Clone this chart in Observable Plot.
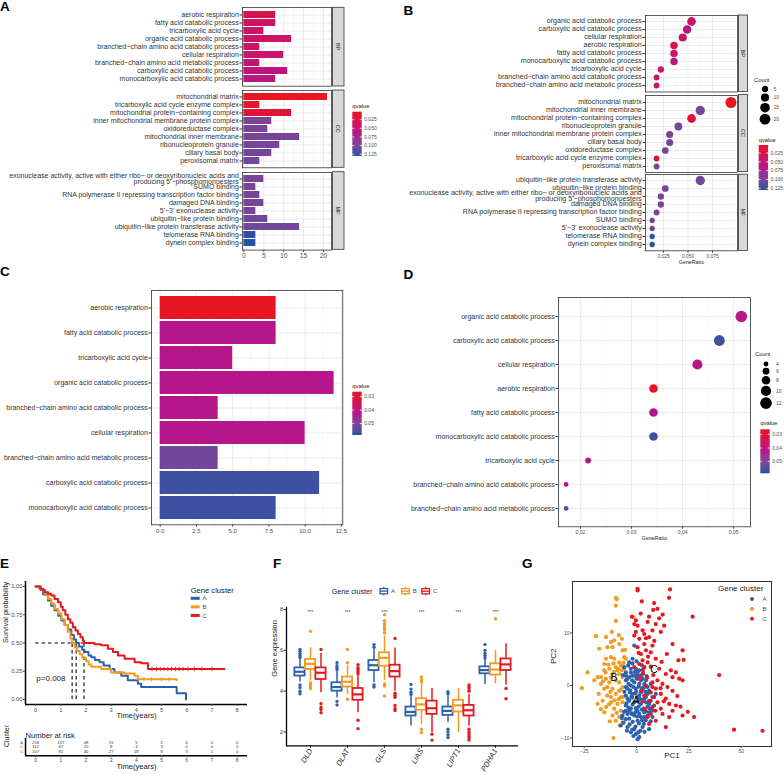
<!DOCTYPE html>
<html><head><meta charset="utf-8">
<script src="https://cdn.jsdelivr.net/npm/d3@7"></script>
<script src="https://cdn.jsdelivr.net/npm/@observablehq/plot@0.6"></script>
<style>
html,body{margin:0;padding:0;background:#fff;}
#root{position:relative;width:784px;height:775px;overflow:hidden;background:#fff;font-family:'Liberation Sans',Arial,sans-serif;}
#root > svg{position:absolute;overflow:visible;}
</style></head><body><div id="root"></div>
<script>
// ================= DATA =================
// --- A: GO bar chart (ordered by qvalue inside each ontology) ---
const bpTerms = ["aerobic respiration","fatty acid catabolic process","tricarboxylic acid cycle","organic acid catabolic process","branched\u2212chain amino acid catabolic process","cellular respiration","branched\u2212chain amino acid metabolic process","carboxylic acid catabolic process","monocarboxylic acid catabolic process"];
const bpCount = [8,8,5,12,4,10,4,11,8];
const bpQ = [0.027,0.040,0.041,0.042,0.043,0.044,0.052,0.057,0.058];
const ccTerms = ["mitochondrial matrix","tricarboxylic acid cycle enzyme complex","mitochondrial protein\u2212containing complex","inner mitochondrial membrane protein complex","oxidoreductase complex","mitochondrial inner membrane","ribonucleoprotein granule","ciliary basal body","peroxisomal matrix"];
const ccCount = [21,4,12,7,6,14,9,7,4];
const ccQ = [0.002,0.012,0.015,0.098,0.099,0.100,0.101,0.102,0.104];
const EXO = "exonuclease activity, active with either ribo\u2212 or deoxyribonucleic acids and\nproducing 5'\u2212phosphomonoesters";
const mfTerms = [EXO,"SUMO binding","RNA polymerase II repressing transcription factor binding","damaged DNA binding","5'\u22123' exonuclease activity","ubiquitin\u2212like protein binding","ubiquitin\u2212like protein transferase activity","telomerase RNA binding","dynein complex binding"];
const mfCount = [5,3,4,5,3,6,14,3,3];
const mfQ = [0.098,0.099,0.100,0.100,0.101,0.102,0.104,0.128,0.130];

// --- B: GO dot plot (ordered by GeneRatio) ---
const bDotBP = ["organic acid catabolic process","carboxylic acid catabolic process","cellular respiration","aerobic respiration","fatty acid catabolic process","monocarboxylic acid catabolic process","tricarboxylic acid cycle","branched\u2212chain amino acid catabolic process","branched\u2212chain amino acid metabolic process"];
const bRatioBP = [0.0536,0.0491,0.0446,0.0357,0.0357,0.0357,0.0223,0.0179,0.0179];
const bDotCC = ["mitochondrial matrix","mitochondrial inner membrane","mitochondrial protein\u2212containing complex","ribonucleoprotein granule","inner mitochondrial membrane protein complex","ciliary basal body","oxidoreductase complex","tricarboxylic acid cycle enzyme complex","peroxisomal matrix"];
const bRatioCC = [0.0938,0.0625,0.0536,0.0402,0.0313,0.0313,0.0268,0.0179,0.0179];
const bDotMF = ["ubiquitin\u2212like protein transferase activity","ubiquitin\u2212like protein binding",EXO,"damaged DNA binding","RNA polymerase II repressing transcription factor binding","SUMO binding","5'\u22123' exonuclease activity","telomerase RNA binding","dynein complex binding"];
const bRatioMF = [0.0625,0.0268,0.0223,0.0223,0.0179,0.0134,0.0134,0.0134,0.0134];

// --- C: BP bar chart ---
const cTerms = bpTerms;
const cCount = [8,8,5,12,4,10,4,11,8];
const cQ = [0.027,0.042,0.042,0.042,0.042,0.042,0.052,0.057,0.057];
// --- D: BP dot plot ---
const dTerms = ["organic acid catabolic process","carboxylic acid catabolic process","cellular respiration","aerobic respiration","fatty acid catabolic process","monocarboxylic acid catabolic process","tricarboxylic acid cycle","branched\u2212chain amino acid catabolic process","branched\u2212chain amino acid metabolic process"];
const dRatio = [0.0515,0.0472,0.0429,0.0343,0.0343,0.0343,0.0215,0.0172,0.0172];

// --- E: Kaplan-Meier ---
const clusters = ["A","B","C"];
const kmA_t = [0,0.15,0.3,0.49,0.62,0.75,0.9,1.02,1.15,1.28,1.42,1.52,1.61,1.72,1.85,1.94,2.1,2.21,2.35,2.54,2.7,2.94,3.13,3.4,3.66,4.06,4.19,5.6,5.97];
const kmA_s = [1,0.98,0.93,0.876,0.83,0.79,0.74,0.70,0.66,0.62,0.57,0.53,0.50,0.47,0.44,0.42,0.39,0.375,0.35,0.33,0.30,0.27,0.24,0.21,0.17,0.14,0.11,0.055,0];
const kmB_t = [0,0.2,0.36,0.5,0.62,0.75,0.89,1.02,1.15,1.28,1.38,1.45,1.55,1.65,1.75,1.85,2.0,2.1,2.21,2.6,3.0,3.53,3.93,4.06,5.6];
const kmB_s = [1,0.97,0.935,0.89,0.85,0.80,0.76,0.71,0.66,0.60,0.54,0.50,0.46,0.43,0.40,0.37,0.34,0.31,0.29,0.27,0.24,0.23,0.21,0.18,0.17];
const kmC_t = [0,0.2,0.36,0.5,0.62,0.75,0.89,1.0,1.08,1.18,1.28,1.38,1.48,1.58,1.68,1.78,1.88,1.92,2.34,2.6,2.87,3.07,3.27,3.53,3.93,4.19,4.46,7.5];
const kmC_s = [1,0.97,0.95,0.935,0.92,0.89,0.86,0.82,0.79,0.75,0.71,0.68,0.64,0.61,0.58,0.55,0.52,0.50,0.49,0.48,0.45,0.42,0.39,0.36,0.33,0.32,0.27,0.27];
const censorB = [4.3,4.6,5.0,5.3];
const censorC = [4.62,4.8,4.95,5.1,5.25,5.4,5.55,5.7,5.85,6.05,6.3,6.6,7.0];
const medianT = [1.45,1.61,1.92];
const riskTimes = [0,1,2,3,4,5,6,7,8];
const riskA = [218,137,48,15,5,2,0,0,0];
const riskB = [112,67,20,8,3,3,0,0,0];
const riskC = [107,81,40,27,18,8,3,1,0];

// --- F: boxplots [lower whisker, q1, median, q3, upper whisker] ---
const genes = ["DLD","DLAT","GLS","LIAS","LIPT1","PDHA1"];
const boxA = [[4.45,4.74,4.95,5.14,5.55],[3.68,4.0,4.2,4.41,4.95],[4.41,5.01,5.27,5.5,6.05],[2.29,2.78,2.98,3.22,3.75],[2.46,2.81,3.03,3.22,3.8],[4.33,4.85,5.03,5.19,5.55]];
const boxB = [[4.5,5.06,5.34,5.55,6.12],[3.84,4.2,4.46,4.69,5.25],[4.5,5.22,5.63,5.88,6.7],[2.37,3.06,3.35,3.63,4.35],[1.97,2.98,3.3,3.55,4.13],[4.36,4.79,5.06,5.34,5.99]];
const boxC = [[3.92,4.57,4.9,5.14,5.85],[2.94,3.55,3.84,4.13,4.75],[4.0,4.69,4.98,5.27,6.12],[1.97,2.86,3.16,3.51,4.13],[2.29,2.78,3.06,3.3,3.85],[4.3,5.01,5.31,5.58,6.32]];
const outA = [[5.65,5.75,5.85,5.95,6.04,4.3,4.17,4.0,3.87],[5.05,5.15,5.25,5.39,3.5,3.32],[6.15,6.28,4.3,4.2],[3.84,3.95,4.1,4.33],[3.88,3.97,2.13,2.0,1.85,1.72],[5.63,5.75,5.85,6.0,6.28]];
const outB = [[6.93,4.4,4.3,4.2,4.13],[5.39,6.04,3.6],[6.85,7.0,7.1,7.2,7.3,7.45,7.75,4.35,4.25,3.76],[4.45,4.55,4.69,2.13,1.97],[],[7.55]];
const outC = [[6.04,3.38,3.2,3.1,2.94],[4.85,4.95,5.05,5.15,5.3,2.57,2.16],[6.58,3.9,3.8,3.7,3.3,3.15,3.05],[1.89,1.6],[4.0,4.1,4.2,4.3,2.13,2.0,1.9,1.8,1.7,1.6],[4.13,3.63]];

// --- G: PCA scores [PC1, PC2] ---
const pcA = [[-1.1,7.6],[-1.9,5.1],[-3.5,4.4],[-2.7,3.2],[-5.1,2.5],[-0.3,3.2],[1.3,2.9],[-1.9,1.9],[-3.5,1.6],[0.5,1.9],[2.9,1.3],[-5.1,1.0],[-1.1,0.6],[1.3,0.3],[-2.7,0],[3.7,-0.3],[-4.3,-0.6],[-0.3,-0.6],[2.1,-1.3],[-1.9,-1.6],[-5.1,-1.9],[5.3,-1.6],[0.5,-2.2],[3.7,-2.5],[-3.5,-2.9],[-1.1,-3.2],[6.8,-2.9],[2.1,-3.5],[-5.1,-3.8],[5.3,-4.0],[-2.7,-4.4],[0.5,-4.8],[7.6,-4.8],[3.7,-5.1],[-4.3,-5.4],[-1.1,-5.7],[2.1,-6.0],[5.3,-5.7],[-6.7,-5.7],[-3.5,-6.3],[0.5,-6.7],[-7.5,-7.6],[-4.3,-7.9],[-1.1,-8.3],[2.9,-7.9],[6,-8.3],[-2.7,-8.9],[-0.3,-9.2],[1.3,-9.8],[0.5,-10.2],[7.6,-6.0],[8.4,-3.8],[-5.9,3.5],[-5.1,-0.3],[6,-1.0],[4.5,1.0],[6.8,0.3],[9.2,-1.6],[-2.1,1.0],[0,1.3],[2.1,1.0],[-3.8,0.3],[-1.4,-0.3],[1,-0.2],[2.9,-0.8],[-3.2,-1.3],[-0.6,-1.5],[1.3,-1.9],[4.5,-2.2],[-2.2,-2.3],[-4.3,-2.5],[0.5,-3],[2.9,-2.9],[-1.9,-3.6],[1,-4],[3.4,-4.4],[-3.5,-4.8],[-0.6,-5.1],[6,-5.1],[-5.1,-4.8],[-2.2,-5.4],[1.3,-5.4],[3.7,-6],[-1.1,1.9],[-2.7,2.5],[0.5,2.5],[-5.1,1.9],[2.1,1.9],[3.7,0.3],[5.3,-0.3],[7.6,-2.2],[6,-3.5],[-4,3.8],[-2,4.2],[0,4.6],[2.5,3.9],[-6.5,2],[-4.5,1.2],[-0.8,2.6],[3.2,2.4],[4.8,1.8],[-3,-0.9],[-0.2,-1.2],[2.6,-0.5],[4.2,-1.2],[-5.8,-1.2],[-4.8,-3.4],[-2.4,-2.1],[1.8,-2.6],[4.6,-3.2],[6.4,-4.4],[-3.8,-4.2],[-0.3,-4.3],[2.6,-4.6],[4.5,-4.9],[-6,-5],[-2.4,-5.3],[0.3,-5.9],[2.6,-6.6],[4.4,-6.6],[-5.2,-6.4],[-1.8,-6.9],[1.2,-7.2],[-3.3,-7.4],[3.5,-7.3],[-0.5,-7.8],[-2,-8.4],[1.8,-8.6],[-1.5,-9.6],[0.8,-8.9],[3.8,-8.8],[-4.6,-8.6],[-6.2,-7.1],[-7,-6.2],[6.8,-6.8]];
const pcB = [[-9.9,16.7],[-9.4,16.4],[-9.9,15.2],[-9.9,12.3],[-1.5,13],[-19.4,9.4],[-14.6,9.2],[-12.2,8.3],[-10.7,8.6],[-13.9,7.3],[-11.5,7.3],[-7,8.9],[-8.3,7.9],[-6.7,6.7],[-17.8,7.0],[-14.6,5.1],[-12.2,5.4],[-10.7,5.1],[-5.9,5.4],[-8.3,4.4],[-15.4,4.1],[-23.4,2.5],[-18.6,1.6],[-15.4,2.9],[-13,3.2],[-9.9,3.5],[-7.5,3.8],[-5.9,3.2],[-11.5,2.2],[-8.3,2.2],[-14.6,1.3],[-6.7,1.6],[-26.1,-0.5],[-17,0.3],[-13,0.6],[-8.3,0.6],[-15.4,-0.6],[-11.5,-0.6],[-6.7,-0.3],[-18.1,-1.6],[-14,-1.9],[-9.9,-1.6],[-7.5,-2.2],[-16.2,-2.9],[-12.2,-3.2],[-9.1,-3.5],[-6.7,-3.2],[-18.6,-3.5],[-14.6,-4.1],[-10.7,-4.4],[-7.5,-4.8],[-15.4,-5.1],[-11.5,-5.7],[-8.3,-6.0],[-9.9,-6.7],[-6.7,-7.0],[-11,-10],[-17,1.6],[-20.2,1.0],[-13.9,-0.3],[-9.9,1.0],[-12.2,-2.2],[-8.3,-1.0],[-5.1,5.1],[-9.1,2.9],[-13.5,4],[-11,4.2],[-8.8,3.2],[-7,2.9],[-12.3,1.5],[-10.8,2.6],[-16,0.8],[-12.5,-1.2],[-10.5,-2.8],[-8.5,-2.6],[-13.2,-3.6],[-17,-4.5],[-9.5,-5.2],[-7.2,-5.8],[-12.8,-6.8],[-8,-7.6],[-7.6,-0.8],[-14.8,2.5],[-6.2,4.3],[-5.5,6.8],[-8.5,9.6],[-11.8,10.2],[-6.5,-2.2]];
const pcC = [[0.5,18.4],[0.5,18.1],[16,18.3],[15.5,16.7],[8.4,15.7],[10,14.6],[8,14.4],[26.8,13.1],[2,13.7],[-2.2,13.1],[-0.3,12.4],[6,13.1],[10.8,12.8],[-1.1,11.7],[0.5,11.4],[5.3,12.1],[9.2,11.7],[13.2,11.4],[11.6,10.2],[-0.3,10.2],[2.9,10.5],[7.6,10.5],[-1.1,9.5],[3.7,9.8],[6,9.2],[1.3,8.9],[17.2,7.9],[3.7,7.9],[7.6,7.6],[0.5,7.3],[4.5,6.7],[6.8,6.3],[2.1,6.0],[22,6.7],[20,4.8],[22.5,4.9],[9.2,5.1],[2.9,4.8],[5.3,4.4],[1.3,4.1],[3.7,3.5],[6.8,3.6],[10.8,3.2],[16.4,2.9],[18.8,2.5],[14,2.2],[17.2,1.6],[20.4,1.3],[22,1.0],[39.5,2.0],[10,1.0],[7.6,0.6],[12.4,0.3],[4.5,0],[9.2,-0.6],[14.8,-0.3],[17.2,-1.0],[6.8,-1.3],[11.6,-1.6],[2.1,-1.0],[8.4,-2.2],[14,-2.5],[10,-3.2],[6,-2.9],[15.6,-3.5],[18.8,-3.8],[21,-4.0],[7.6,-4.1],[11.6,-4.4],[17.2,-4.8],[22,-5.7],[27.5,-6.0],[15.6,-6.0],[12.4,-5.4],[6.8,-5.4],[5.3,-6.0],[9.2,-6.7],[14,-7.9],[6,-7.3],[46.6,-8.4],[60.2,-8.6],[3.7,-1.9],[7.6,-0.3],[1.3,1.3],[2.9,2.2],[-1.1,3.5],[4.5,9.0],[8.5,8.5],[1.0,6.2],[5.5,5.5],[3.0,3.0],[8.0,2.0],[5.0,1.5],[11.5,-0.5],[13.0,-3.0],[9.0,-4.8],[4.0,-4.5],[3.0,-3.0],[19.5,-2.0],[24.5,-5.0],[12.0,4.5],[14.5,6.0],[2.5,16.0],[12.5,13.5]];

// ================= STYLE / HELPERS =================
const QCOLS = ["#E8161E", "#B3178D", "#2352A3"];
const colA = "#2C62AD", colB = "#F29B1F", colC = "#E5191F";
const clusterColors = [colA, colB, colC];
const FONT = "'Liberation Sans', Arial, Helvetica, sans-serif";
const root = document.getElementById("root");
const gridMajor = {stroke: "#e6e6e6", strokeOpacity: 1, strokeWidth: 0.8};
const gridMinor = {stroke: "#eeeeee", strokeOpacity: 1, strokeWidth: 0.5};
const qGOdom = [0.002, 0.13], qBPdom = [0.0263, 0.0585];
const qScale = dom => ({type: "linear", domain: [dom[0], (dom[0] + dom[1]) / 2, dom[1]], range: QCOLS, interpolate: d3.interpolateLab});
const qGO = qScale(qGOdom), qBP = qScale(qBPdom);
const rGO = {type: "sqrt", domain: [3, 21], range: [2.65, 5.5]};
const rBP = {type: "sqrt", domain: [4, 12], range: [2.4, 5.8]};

function mk(fr, m, opts) {
  const W = fr.x1 - fr.x0 + m[1] + m[3], H = fr.y1 - fr.y0 + m[0] + m[2];
  const o = Object.assign({
    width: W, height: H, marginTop: m[0], marginRight: m[1], marginBottom: m[2], marginLeft: m[3],
    style: {fontFamily: FONT, fontSize: "6px", background: "transparent", overflow: "visible", color: "#1a1a1a"}
  }, opts);
  o.marks = o.marks.filter(Boolean);
  const svg = Plot.plot(o);
  svg.style.position = "absolute";
  svg.style.left = (fr.x0 - m[3]) + "px";
  svg.style.top = (fr.y0 - m[0]) + "px";
  root.appendChild(svg);
  return svg;
}

const goCount = new Map(), goQ = new Map();
[[bpTerms,bpCount,bpQ],[ccTerms,ccCount,ccQ],[mfTerms,mfCount,mfQ]].forEach(([t,c,q]) => t.forEach((d,i) => {goCount.set(d,c[i]); goQ.set(d,q[i]);}));
const bpCountMap = new Map(cTerms.map((d,i)=>[d,cCount[i]])), bpQMap = new Map(cTerms.map((d,i)=>[d,cQ[i]]));

// ================= PANEL A =================
const aTicks = [0,5,10,15,20], aMinor = [2.5,7.5,12.5,17.5];
function panelA(terms, counts, qs, fr, showX) {
  const data = terms.map((t,i) => ({term: t, n: counts[i], q: qs[i]}));
  mk(fr, [3, 3, showX ? 14 : 3, 245], {
    x: {domain: [-0.35, 22], axis: showX ? undefined : null},
    y: {type: "band", domain: terms, paddingInner: 0.1, paddingOuter: 0.15},
    color: qGO,
    marks: [
      Plot.gridX(aMinor, gridMinor), Plot.gridX(aTicks, gridMajor), Plot.gridY(terms, gridMajor),
      Plot.barX(data, {x: "n", y: "term", fill: "q"}),
      Plot.frame({stroke: "#333", strokeWidth: 0.8}),
      Plot.axisY({tickSize: 2.5, tickPadding: 1.2, fontSize: 7, lineHeight: 0.85, color: "#333", label: null}),
      showX && Plot.axisX(aTicks, {tickSize: 2.5, tickPadding: 1, fontSize: 6.8, color: "#4d4d4d", label: null})
    ]
  });
}
panelA(bpTerms, bpCount, bpQ, {x0: 242, x1: 331, y0: 7.3, y1: 86}, false);
panelA(ccTerms, ccCount, ccQ, {x0: 242, x1: 331, y0: 90, y1: 167.3}, false);
panelA(mfTerms, mfCount, mfQ, {x0: 242, x1: 331, y0: 171.7, y1: 249.3}, true);

// ================= PANEL B =================
const bTicks = [0.025,0.05,0.075], bMinor = [0.0125,0.0375,0.0625,0.0875];
function panelB(terms, ratios, fr, showX) {
  const data = terms.map((t,i) => ({term: t, ratio: ratios[i], n: goCount.get(t), q: goQ.get(t)}));
  mk(fr, [3, 3, showX ? 20 : 3, 250], {
    x: {domain: [0.0066, 0.1005], axis: showX ? undefined : null},
    y: {type: "point", domain: terms, padding: 0.6},
    color: qGO, r: rGO,
    marks: [
      Plot.gridX(bMinor, gridMinor), Plot.gridX(bTicks, gridMajor), Plot.gridY(terms, gridMajor),
      Plot.dot(data, {x: "ratio", y: "term", r: "n", fill: "q"}),
      Plot.frame({stroke: "#333", strokeWidth: 0.8}),
      Plot.axisY({tickSize: 2.5, tickPadding: 1.2, fontSize: 7.1, lineHeight: 0.85, color: "#333", label: null}),
      showX && Plot.axisX(bTicks, {tickFormat: d3.format(".3f"), tickSize: 2.5, tickPadding: 1, fontSize: 4.9, color: "#4d4d4d", label: null}),
      showX && Plot.text(["GeneRatio"], {text: d => d, frameAnchor: "bottom", dy: 13.5, fontSize: 5.3, fill: "#1a1a1a"})
    ]
  });
}
panelB(bDotBP, bRatioBP, {x0: 645, x1: 737, y0: 15, y1: 91.5}, false);
panelB(bDotCC, bRatioCC, {x0: 645, x1: 737, y0: 94.5, y1: 171.5}, false);
panelB(bDotMF, bRatioMF, {x0: 645, x1: 737, y0: 174.2, y1: 250.5}, true);

// ================= PANEL C =================
const cTicks = [0,2.5,5,7.5,10,12.5], cMinor = [1.25,3.75,6.25,8.75,11.25];
mk({x0: 151, x1: 342.3, y0: 290, y1: 524.3}, [3, 3, 14, 150], {
  x: {domain: [-0.6, 12.6]},
  y: {type: "band", domain: cTerms, paddingInner: 0.1, paddingOuter: 0.15},
  color: qBP,
  marks: [
    Plot.gridX(cMinor, gridMinor), Plot.gridX(cTicks, gridMajor), Plot.gridY(cTerms, gridMajor),
    Plot.barX(cTerms.map((t,i) => ({term: t, n: cCount[i], q: cQ[i]})), {x: "n", y: "term", fill: "q"}),
    Plot.frame({stroke: "#333", strokeWidth: 0.8}),
    Plot.axisY({tickSize: 2.5, tickPadding: 1.2, fontSize: 7, color: "#333", label: null}),
    Plot.axisX(cTicks, {tickFormat: d3.format(".1f"), tickSize: 2.5, tickPadding: 1, fontSize: 6, color: "#4d4d4d", label: null})
  ]
});

// ================= PANEL D =================
const dTicks = [0.02,0.03,0.04,0.05], dMinor = [0.025,0.035,0.045];
mk({x0: 558, x1: 750, y0: 296.7, y1: 526}, [3, 3, 20, 150], {
  x: {domain: [0.0157, 0.0533]},
  y: {type: "point", domain: dTerms, padding: 0.6},
  color: qBP, r: rBP,
  marks: [
    Plot.gridX(dMinor, gridMinor), Plot.gridX(dTicks, gridMajor), Plot.gridY(dTerms, gridMajor),
    Plot.dot(dTerms.map((t,i) => ({term: t, ratio: dRatio[i], n: bpCountMap.get(t), q: bpQMap.get(t)})), {x: "ratio", y: "term", r: "n", fill: "q"}),
    Plot.frame({stroke: "#333", strokeWidth: 0.8}),
    Plot.axisY({tickSize: 2.5, tickPadding: 1.2, fontSize: 7, color: "#333", label: null}),
    Plot.axisX(dTicks, {tickFormat: d3.format(".2f"), tickSize: 2.5, tickPadding: 1, fontSize: 5.1, color: "#4d4d4d", label: null}),
    Plot.text(["GeneRatio"], {text: d => d, frameAnchor: "bottom", dy: 13.2, fontSize: 5.3, fill: "#1a1a1a"})
  ]
});

// ================= PANEL E =================
const km = [];
[[kmA_t,kmA_s],[kmB_t,kmB_s],[kmC_t,kmC_s]].forEach(([ts,ss],k) => ts.forEach((t,i) => km.push({cluster: clusters[k], t, s: ss[i]})));
function survAt(ts, ss, t) { let s = ss[0]; ts.forEach((d,i) => { if (d <= t) s = ss[i]; }); return s; }
const censor = [
  ...censorB.map(t => ({cluster: "B", t, s: survAt(kmB_t, kmB_s, t)})),
  ...censorC.map(t => ({cluster: "C", t, s: survAt(kmC_t, kmC_s, t)}))
];
const timeTicks = [0,1,2,3,4,5,6,7,8];
const clusterScale = {domain: clusters, range: clusterColors};
mk({x0: 25, x1: 247, y0: 581, y1: 704}, [6, 4, 18, 25], {
  x: {domain: [-0.4, 8.41]}, y: {domain: [-0.044, 1.044]},
  color: clusterScale,
  marks: [
    Plot.ruleX(medianT, {x: d => d, y1: 0, y2: 0.5, stroke: "#000", strokeWidth: 1.1, strokeDasharray: "3.5,3"}),
    Plot.ruleY([0.5], {x1: 0, x2: d3.max(medianT), stroke: "#000", strokeWidth: 1.1, strokeDasharray: "3.5,3"}),
    Plot.line(km, {x: "t", y: "s", stroke: "cluster", z: "cluster", curve: "step-after", strokeWidth: 2}),
    Plot.dot(censor, {x: "t", y: "s", stroke: "cluster", symbol: "plus", r: 1.6, strokeWidth: 0.8}),
    Plot.ruleX([-0.4], {stroke: "#000", strokeWidth: 1.5}),
    Plot.ruleY([-0.044], {stroke: "#000", strokeWidth: 1.5}),
    Plot.axisX(timeTicks, {tickSize: 2, tickPadding: 1, fontSize: 5.8, color: "#4d4d4d", label: null}),
    Plot.axisY([0,0.25,0.5,0.75,1], {tickFormat: d3.format(".2f"), tickSize: 2, tickPadding: 1, fontSize: 5.8, color: "#4d4d4d", label: null}),
    Plot.text(["p=0.008"], {text: d => d, x: 0.03, y: 0.19, textAnchor: "start", fontSize: 8, fill: "#1a1a1a"}),
    Plot.text(["Time(years)"], {text: d => d, frameAnchor: "bottom", dy: 13.8, fontSize: 7.6, fill: "#1a1a1a"}),
    Plot.text(["Survival probability"], {text: d => d, frameAnchor: "left", rotate: -90, dx: -20, fontSize: 7.3, fill: "#1a1a1a"})
  ]
});
// risk table
const risk = [];
[riskA, riskB, riskC].forEach((arr,k) => arr.forEach((n,i) => risk.push({cluster: clusters[k], t: riskTimes[i], n})));
mk({x0: 25, x1: 247, y0: 737.5, y1: 754.7}, [12, 4, 16, 25], {
  x: {domain: [-0.4, 8.41]}, y: {domain: [0, 4], axis: null},
  color: clusterScale,
  marks: [
    Plot.text(risk, {x: "t", y: d => 3 - clusters.indexOf(d.cluster), text: d => String(d.n), fontSize: 4.2, fill: "#333"}),
    Plot.text(clusters, {x: -0.4, y: d => 3 - clusters.indexOf(d), text: d => d, dx: -2.5, textAnchor: "end", fill: d => d, fontSize: 4}),
    Plot.ruleX([-0.4], {stroke: "#000", strokeWidth: 1.5}),
    Plot.ruleY([0], {stroke: "#000", strokeWidth: 1.5}),
    Plot.axisX(timeTicks, {tickSize: 2, tickPadding: 0.5, fontSize: 5, color: "#4d4d4d", label: null}),
    Plot.text(["Number at risk"], {text: d => d, frameAnchor: "top-left", dy: -5.5, textAnchor: "start", fontSize: 7.6, fill: "#1a1a1a"}),
    Plot.text(["Cluster"], {text: d => d, frameAnchor: "left", rotate: -90, dx: -19, fontSize: 7, fill: "#1a1a1a"}),
    Plot.text(["Time(years)"], {text: d => d, frameAnchor: "bottom", dy: 13.2, fontSize: 7.6, fill: "#1a1a1a"})
  ]
});

// ================= PANEL F =================
const boxMarks = [];
[[boxA,outA],[boxB,outB],[boxC,outC]].forEach(([bx,ot],k) => {
  const col = clusterColors[k], dx = (k - 1) * 10.5;
  const st = genes.map((g,i) => ({gene: g, lo: bx[i][0], q1: bx[i][1], med: bx[i][2], q3: bx[i][3], hi: bx[i][4]}));
  const outs = [];
  genes.forEach((g,i) => ot[i].forEach(v => outs.push({gene: g, v})));
  boxMarks.push(
    Plot.ruleX(st, {x: "gene", y1: "lo", y2: "q1", stroke: col, strokeWidth: 1.5, dx}),
    Plot.ruleX(st, {x: "gene", y1: "q3", y2: "hi", stroke: col, strokeWidth: 1.5, dx}),
    Plot.dot(outs, {x: "gene", y: "v", r: 1.7, fill: col, dx}),
    Plot.barY(st, {x: "gene", y1: "q1", y2: "q3", fill: "white", stroke: col, strokeWidth: 1.8, insetLeft: 0.9, insetRight: 0.9, dx}),
    Plot.tickY(st, {x: "gene", y: "med", stroke: col, strokeWidth: 2.2, inset: 0.9, dx})
  );
});
mk({x0: 286, x1: 518, y0: 606.7, y1: 745}, [6, 4, 32, 16], {
  x: {type: "band", domain: genes, paddingInner: 0.686, paddingOuter: 0.443},
  y: {domain: [1.32, 8.1]},
  marks: [
    ...boxMarks,
    Plot.text(genes, {x: d => d, frameAnchor: "top", dy: 3, text: () => "***", fontSize: 5, fill: "#444"}),
    Plot.ruleY([1.32], {stroke: "#000", strokeWidth: 1.3}),
    Plot.frame({anchor: "left", stroke: "#000", strokeWidth: 1.3}),
    Plot.axisY([2,4,6,8], {tickSize: 2.5, tickPadding: 1, fontSize: 5.5, color: "#333", label: null}),
    Plot.axisX({tickSize: 2.5, tickPadding: 1, tickRotate: -60, fontSize: 7.5, fontStyle: "italic", color: "#1a1a1a", label: null}),
    Plot.text(["Gene expression"], {text: d => d, frameAnchor: "left", rotate: -90, dx: -12, fontSize: 7.5, fill: "#1a1a1a"})
  ]
});

// ================= PANEL G =================
const pcAll = [
  ...pcB.map(([x,y]) => ({cluster: "B", pc1: x, pc2: y})),
  ...pcA.map(([x,y]) => ({cluster: "A", pc1: x, pc2: y})),
  ...pcC.map(([x,y]) => ({cluster: "C", pc1: x, pc2: y}))
];
const centers = [pcA, pcB, pcC].map((arr,k) => ({cluster: clusters[k], x: d3.median(arr, d => d[0]), y: d3.median(arr, d => d[1])}));
mk({x0: 572, x1: 771, y0: 581, y1: 746}, [4, 4, 16, 24], {
  x: {domain: [-30.6, 64.5]}, y: {domain: [-11.6, 19.8]},
  color: clusterScale,
  marks: [
    Plot.dot(pcAll, {x: "pc1", y: "pc2", fill: "cluster", r: 2.1}),
    Plot.text(centers, {x: "x", y: "y", text: "cluster", fontSize: 10.5, fill: "#000"}),
    Plot.frame({stroke: "#333", strokeWidth: 1}),
    Plot.axisX([-25,0,25,50], {tickSize: 2, tickPadding: 1, fontSize: 5, color: "#4d4d4d", label: null}),
    Plot.axisY([-10,0,10], {tickSize: 2, tickPadding: 1, fontSize: 5, color: "#4d4d4d", label: null}),
    Plot.text(["PC1"], {text: d => d, frameAnchor: "bottom", dy: 11, fontSize: 8, fill: "#1a1a1a"}),
    Plot.text(["PC2"], {text: d => d, frameAnchor: "left", rotate: -90, dx: -19, fontSize: 8, fill: "#1a1a1a"})
  ]
});

// ================= OVERLAY: strips, legends, panel letters =================
const ov = d3.select(root).append("svg").attr("width", 784).attr("height", 775)
  .style("left", "0px").style("top", "0px").style("pointer-events", "none").attr("font-family", FONT);
const grad = ov.append("defs").append("linearGradient").attr("id", "qgrad").attr("x1", 0).attr("y1", 0).attr("x2", 0).attr("y2", 1);
const qi = d3.piecewise(d3.interpolateLab, QCOLS);
d3.range(0, 1.0001, 0.1).forEach(t => grad.append("stop").attr("offset", t).attr("stop-color", qi(t)));

function strip(x0, x1, y0, y1, label) {
  ov.append("rect").attr("x", x0).attr("y", y0).attr("width", x1 - x0).attr("height", y1 - y0)
    .attr("fill", "#d9d9d9").attr("stroke", "#333").attr("stroke-width", 0.8);
  ov.append("text").attr("transform", `translate(${(x0 + x1) / 2},${(y0 + y1) / 2}) rotate(90)`)
    .attr("text-anchor", "middle").attr("dy", "0.35em").attr("font-size", 5.5).attr("fill", "#1a1a1a").text(label);
}
strip(332.5, 344, 7.3, 86, "BP"); strip(332.5, 344, 90, 167.3, "CC"); strip(332.5, 344, 171.7, 249.3, "MF");
strip(738.5, 747.5, 15, 91.5, "BP"); strip(738.5, 747.5, 94.5, 171.5, "CC"); strip(738.5, 747.5, 174.2, 250.5, "MF");

function colorbar(x, y0, y1, domain, ticks, fmt, titleBase) {
  const s = d3.scaleLinear(domain, [y0, y1]);
  const w = 9.4;
  ov.append("text").attr("x", x).attr("y", titleBase).attr("font-size", 5.8).attr("fill", "#1a1a1a").text("qvalue");
  ov.append("rect").attr("x", x).attr("y", y0).attr("width", w).attr("height", y1 - y0).attr("fill", "url(#qgrad)");
  ticks.forEach(t => {
    const y = s(t);
    ov.append("line").attr("x1", x).attr("x2", x + 2).attr("y1", y).attr("y2", y).attr("stroke", "#fff").attr("stroke-width", 0.8);
    ov.append("line").attr("x1", x + w - 2).attr("x2", x + w).attr("y1", y).attr("y2", y).attr("stroke", "#fff").attr("stroke-width", 0.8);
    ov.append("text").attr("x", x + w + 2.5).attr("y", y).attr("dy", "0.35em").attr("font-size", 5).attr("fill", "#4d4d4d").text(d3.format(fmt)(t));
  });
}
colorbar(352.3, 111.7, 156, qGOdom, [0.025,0.05,0.075,0.1,0.125], ".3f", 108);
colorbar(758.7, 145, 190, qGOdom, [0.025,0.05,0.075,0.1,0.125], ".3f", 141.5);
colorbar(352.3, 391.7, 435, qBPdom, [0.03,0.04,0.05], ".2f", 388);
colorbar(760.3, 429.3, 473.3, qBPdom, [0.03,0.04,0.05], ".2f", 425);

function countLegend(x, titleBase, yStart, values, rs, labelX) {
  const r = d3.scaleSqrt(rs.domain, rs.range);
  ov.append("text").attr("x", x - 11).attr("y", titleBase).attr("font-size", 5.8).attr("fill", "#1a1a1a").text("Count");
  let y = yStart, prev = null;
  values.forEach(v => {
    if (prev !== null) y += r(prev) + r(v) + 1.3;
    ov.append("circle").attr("cx", x).attr("cy", y).attr("r", r(v)).attr("fill", "#000");
    ov.append("text").attr("x", labelX).attr("y", y).attr("dy", "0.35em").attr("font-size", 5).attr("fill", "#4d4d4d").text(v);
    prev = v;
  });
}
countLegend(765, 82, 89, [5,10,15,20], rGO, 773.5);
countLegend(766, 355.5, 364, [4,6,8,10,12], rBP, 776);

// E legend
ov.append("text").attr("x", 190.7).attr("y", 592.5).attr("font-size", 7.6).attr("fill", "#1a1a1a").text("Gene cluster");
[598.3, 606.9, 615.5].forEach((y,k) => {
  ov.append("line").attr("x1", 190.7).attr("x2", 199.7).attr("y1", y).attr("y2", y).attr("stroke", clusterColors[k]).attr("stroke-width", 3);
  ov.append("text").attr("x", 202.5).attr("y", y).attr("dy", "0.35em").attr("font-size", 6).attr("fill", "#4d4d4d").text(clusters[k]);
});
// F legend
ov.append("text").attr("x", 331.7).attr("y", 594).attr("font-size", 7.2).attr("fill", "#1a1a1a").text("Gene cluster");
[380, 401.7, 421.9].forEach((x,k) => {
  const c = clusterColors[k], cx = x + 3.8;
  ov.append("line").attr("x1", cx).attr("x2", cx).attr("y1", 586.8).attr("y2", 595.5).attr("stroke", c).attr("stroke-width", 1.2);
  ov.append("rect").attr("x", x).attr("y", 588.6).attr("width", 7.6).attr("height", 5.2).attr("fill", "#fff").attr("stroke", c).attr("stroke-width", 1.3);
  ov.append("line").attr("x1", x).attr("x2", x + 7.6).attr("y1", 591.2).attr("y2", 591.2).attr("stroke", c).attr("stroke-width", 1.3);
  ov.append("text").attr("x", x + 11).attr("y", 591.2).attr("dy", "0.35em").attr("font-size", 6).attr("fill", "#4d4d4d").text(clusters[k]);
});
// G legend
ov.append("text").attr("x", 718).attr("y", 591).attr("font-size", 8).attr("fill", "#1a1a1a").text("Gene cluster");
[599, 609, 618.7].forEach((y,k) => {
  ov.append("circle").attr("cx", 752).attr("cy", y).attr("r", 2).attr("fill", clusterColors[k]);
  ov.append("text").attr("x", 762.5).attr("y", y).attr("dy", "0.35em").attr("font-size", 6).attr("fill", "#4d4d4d").text(clusters[k]);
});

// panel letters
[["A",0,10.5],["B",403.5,15],["C",0,276],["D",403.5,278.5],["E",0,568],["F",273,568],["G",522,568]].forEach(([t,x,y]) =>
  ov.append("text").attr("x", x).attr("y", y).attr("font-size", 13.5).attr("font-weight", "bold").attr("fill", "#000").text(t));
</script></body></html>
